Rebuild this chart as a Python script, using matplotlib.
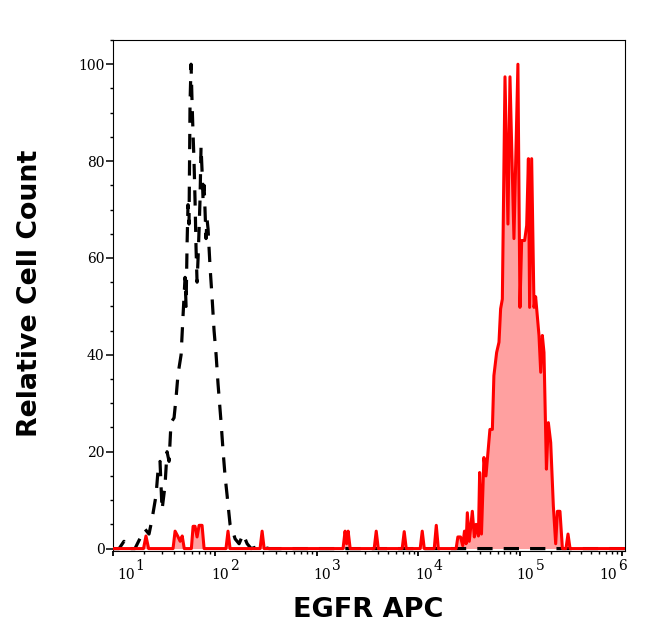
import matplotlib
matplotlib.use("Agg")
import matplotlib.pyplot as plt
from matplotlib.transforms import blended_transform_factory, offset_copy
from matplotlib.ticker import MultipleLocator, LogLocator, NullFormatter
import numpy as np

# isotype control (black dashed) - log10 of intensity and relative count
iso_log = [1.00, 1.06, 1.108, 1.138, 1.216, 1.275, 1.315, 1.354, 1.383, 1.423,
           1.442, 1.462, 1.482, 1.511, 1.531, 1.551, 1.570, 1.600, 1.619, 1.639,
           1.669, 1.688, 1.708, 1.718, 1.728, 1.737, 1.747, 1.757, 1.767, 1.777,
           1.786, 1.796, 1.806, 1.816, 1.826, 1.836, 1.846, 1.855, 1.865, 1.875,
           1.885, 1.895, 1.904, 1.914, 1.924, 1.934, 1.954, 1.973, 1.993, 2.013,
           2.032, 2.062, 2.082, 2.101, 2.121, 2.150, 2.170, 2.200, 2.239, 2.278,
           2.318, 2.357, 2.436, 2.534, 6.03]
iso_count = [0, 0, 1.5, 0, 0, 2.5, 4, 3, 6, 11,
             16, 18, 8, 13, 20, 18, 26, 27, 31, 36,
             40, 48, 56, 50, 63, 71, 67, 92, 100, 92,
             86, 80, 72, 62, 55, 60, 66, 72, 83, 78,
             72, 75, 70, 64, 68, 66, 58, 52, 45, 40,
             34, 26, 20, 15, 11, 5, 4, 2, 1, 3,
             1, 0, 0.5, 0, 0]

# EGFR APC stained (red filled)
egfr_log = [1.00, 1.30, 1.324, 1.35, 1.59, 1.61, 1.64, 1.66, 1.68, 1.70,
            1.77, 1.787, 1.806, 1.826, 1.846, 1.875, 1.895, 2.11, 2.13, 2.15,
            2.445, 2.465, 2.485, 3.26, 3.28, 3.295, 3.31, 3.33, 3.566, 3.586,
            3.606, 3.841, 3.861, 3.881, 4.018, 4.038, 4.058, 4.156, 4.176, 4.196,
            4.371, 4.388, 4.414, 4.436, 4.453, 4.469, 4.481, 4.50, 4.530, 4.55,
            4.567, 4.59, 4.602, 4.62, 4.644, 4.664, 4.703, 4.727, 4.742, 4.769,
            4.792, 4.808, 4.825, 4.851, 4.880, 4.900, 4.939, 4.978, 4.998, 5.015,
            5.044, 5.064, 5.081, 5.093, 5.113, 5.136, 5.152, 5.185, 5.202, 5.218,
            5.234, 5.258, 5.277, 5.300, 5.326, 5.349, 5.366, 5.391, 5.415, 5.45,
            5.47, 5.49, 6.03]
egfr_count = [0, 0, 2.6, 0, 0, 3.6, 2.4, 1.5, 2.6, 0,
              0, 4.6, 4.6, 2.4, 4.8, 4.8, 0, 0, 3.6, 0,
              0, 3.6, 0, 0, 3.6, 1, 3.6, 0, 0, 3.6,
              0, 0, 3.5, 0, 0, 3.6, 0, 0, 4.8, 0,
              0, 2.4, 2.4, 0.6, 3.6, 1, 7.4, 1.5, 7.7, 2.4,
              5, 2.6, 15.7, 3, 18.8, 15, 24.6, 24.6, 35.7, 40.5,
              42.6, 49.5, 51.5, 97.4, 67, 97.4, 64, 100, 49.8, 63.6,
              63.6, 66.7, 80.5, 49.8, 80.5, 49.8, 52, 44, 36.4, 44,
              40.5, 16.4, 26, 21.9, 8.8, 1, 7.7, 7.7, 0, 0,
              3, 0, 0]

xtick_exp = [1, 2, 3, 4, 5, 6]
ytick_vals = [0, 20, 40, 60, 80, 100]

iso_x = 10 ** np.array(iso_log)
egfr_x = 10 ** np.array(egfr_log)

plt.rcParams['lines.scale_dashes'] = False

fig = plt.figure(figsize=(6.46, 6.41), dpi=100)
ax = fig.add_axes([0.1749, 0.1404, 0.7926, 0.7972])

ax.fill_between(egfr_x, egfr_count, 0, color='#ffa0a0', lw=0, zorder=1)
ax.plot(iso_x, iso_count, color='black', lw=2.3, linestyle=(0, (11, 8)), zorder=2)
ax.plot(egfr_x, egfr_count, color='#ff0000', lw=2.2, zorder=3)

ax.set_xscale('log')
ax.set_xlim(10, 10 ** 6.03)
ax.set_ylim(-0.5, 105)

ax.xaxis.set_major_locator(LogLocator(base=10, numticks=10))
ax.xaxis.set_minor_locator(LogLocator(base=10, subs=np.arange(2, 10), numticks=20))
ax.xaxis.set_major_formatter(NullFormatter())
ax.xaxis.set_minor_formatter(NullFormatter())
ax.yaxis.set_minor_locator(MultipleLocator(5))
ax.set_yticks(ytick_vals)
ax.set_yticklabels([str(v) for v in ytick_vals], family='DejaVu Serif', fontsize=10)

ax.tick_params(axis='y', which='major', direction='out', length=5, width=1.1, pad=1)
ax.tick_params(axis='y', which='minor', direction='out', length=2.5, width=1)
ax.tick_params(axis='x', which='major', direction='out', length=3.5, width=1.3)
ax.tick_params(axis='x', which='minor', direction='out', length=2, width=1)
for sp in ax.spines.values():
    sp.set_linewidth(0.8)

# x tick labels drawn as "10" with a full-size exponent, like the original
trans = blended_transform_factory(ax.transData, ax.transAxes)
shifts = {1: 2.9, 6: -16.0}
for e in xtick_exp:
    dx = shifts.get(e, -2.5)
    t1 = offset_copy(trans, fig=fig, x=dx, y=-20, units='points')
    t2 = offset_copy(trans, fig=fig, x=dx + 13.5, y=-13.5, units='points')
    ax.text(10 ** e, 0, '10', transform=t1, ha='left', va='baseline',
            family='DejaVu Serif', fontsize=10, clip_on=False)
    ax.text(10 ** e, 0, str(e), transform=t2, ha='left', va='baseline',
            family='DejaVu Serif', fontsize=10, clip_on=False)

fig.text(0.5697, 0.048, 'EGFR APC', ha='center', va='center',
         fontsize=19.5, fontweight='bold', family='DejaVu Sans')
fig.text(0.046, 0.543, 'Relative Cell Count', ha='center', va='center',
         rotation=90, fontsize=19.3, fontweight='bold', family='DejaVu Sans')

fig.savefig('out.png', dpi=100)
